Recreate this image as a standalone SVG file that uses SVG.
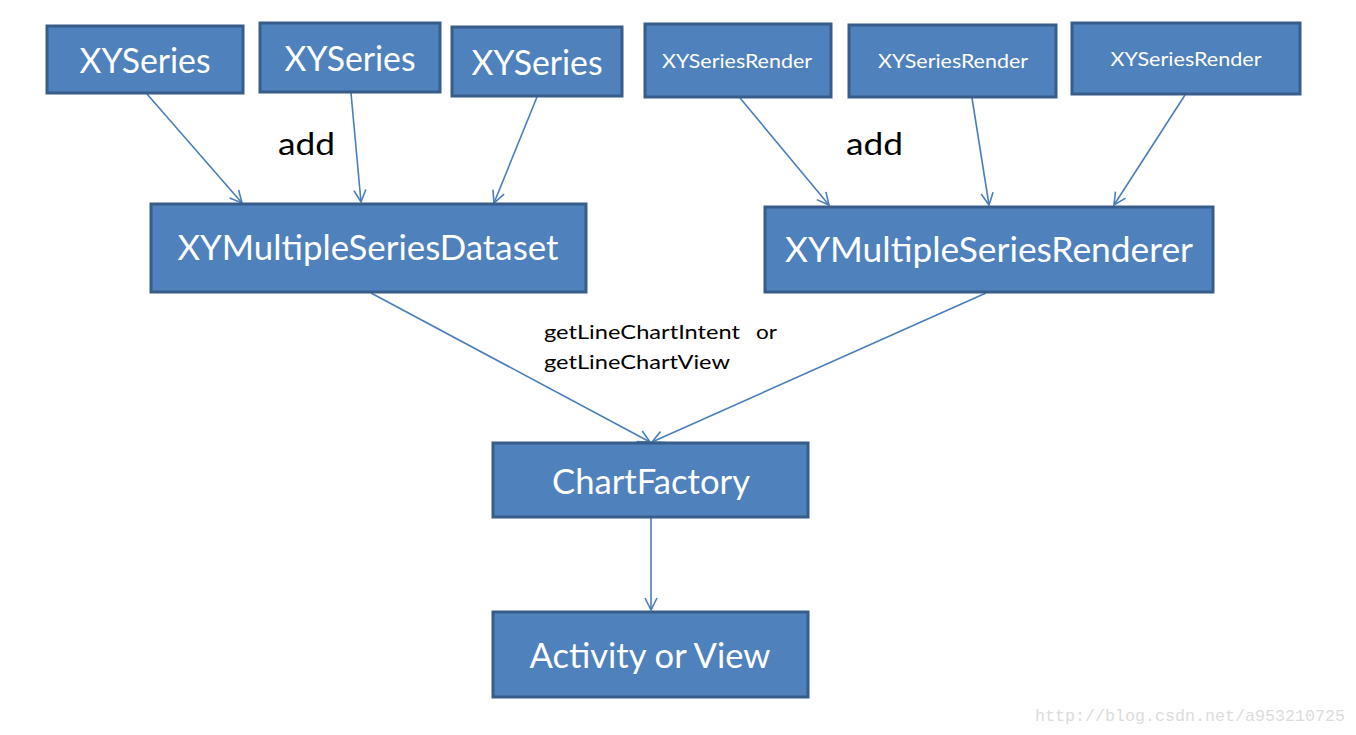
<svg xmlns="http://www.w3.org/2000/svg" width="1356" height="735" viewBox="0 0 1356 735">
<defs>
<style>
.box{fill:#4F81BD;stroke:#385D8A;stroke-width:3}
.bt{fill:#FFFFFF;font-family:Lato,"Open Sans",sans-serif;text-anchor:middle}
.lbl{fill:#000000;font-family:Lato,"Open Sans",sans-serif}
.con line{stroke:#4A7EBB;stroke-width:1.6;marker-end:url(#ah)}
</style>
<marker id="ah" viewBox="0 0 14 14" refX="13" refY="7" markerWidth="14" markerHeight="14" markerUnits="userSpaceOnUse" orient="auto">
<path d="M1,1 L13,7 L1,13" fill="none" stroke="#4A7EBB" stroke-width="1.6"/>
</marker>
</defs>
<rect width="1356" height="735" fill="#FFFFFF"/>
<g class="con">
<line x1="147" y1="94" x2="242" y2="203"/>
<line x1="351" y1="93" x2="361" y2="202"/>
<line x1="537" y1="97" x2="494" y2="203"/>
<line x1="740" y1="98" x2="829" y2="205"/>
<line x1="972" y1="98" x2="989" y2="205"/>
<line x1="1185" y1="95" x2="1114" y2="205"/>
<line x1="371" y1="293" x2="650" y2="442"/>
<line x1="986" y1="293" x2="652" y2="442"/>
<line x1="651" y1="518" x2="651" y2="610"/>
</g>
<g id="n1"><rect class="box" x="47" y="26" width="196" height="67"/><text class="bt" x="145" y="73" font-size="34" textLength="131" lengthAdjust="spacingAndGlyphs">XYSeries</text></g>
<g id="n2"><rect class="box" x="260" y="23" width="180" height="69"/><text class="bt" x="350" y="71" font-size="34" textLength="131" lengthAdjust="spacingAndGlyphs">XYSeries</text></g>
<g id="n3"><rect class="box" x="452" y="27" width="170" height="69"/><text class="bt" x="537" y="75" font-size="34" textLength="131" lengthAdjust="spacingAndGlyphs">XYSeries</text></g>
<g id="n4"><rect class="box" x="645" y="24" width="186" height="73"/><text class="bt" x="737" y="68" font-size="20" textLength="150" lengthAdjust="spacingAndGlyphs">XYSeriesRender</text></g>
<g id="n5"><rect class="box" x="849" y="25" width="207" height="72"/><text class="bt" x="953" y="68" font-size="20" textLength="150" lengthAdjust="spacingAndGlyphs">XYSeriesRender</text></g>
<g id="n6"><rect class="box" x="1072" y="23" width="228" height="71"/><text class="bt" x="1186" y="66" font-size="20" textLength="151" lengthAdjust="spacingAndGlyphs">XYSeriesRender</text></g>
<g id="n7"><rect class="box" x="151" y="204" width="435" height="88"/><text class="bt" x="368" y="260" font-size="34" textLength="381" lengthAdjust="spacingAndGlyphs">XYMultipleSeriesDataset</text></g>
<g id="n8"><rect class="box" x="765" y="207" width="448" height="85"/><text class="bt" x="989" y="262" font-size="34" textLength="408" lengthAdjust="spacingAndGlyphs">XYMultipleSeriesRenderer</text></g>
<g id="n9"><rect class="box" x="493" y="443" width="315" height="74"/><text class="bt" x="651" y="494" font-size="34" textLength="198" lengthAdjust="spacingAndGlyphs">ChartFactory</text></g>
<g id="n10"><rect class="box" x="493" y="612" width="315" height="85"/><text class="bt" x="650" y="668" font-size="34" textLength="241" lengthAdjust="spacingAndGlyphs">Activity or View</text></g>
<g id="labels">
<text class="lbl" x="278" y="155" font-size="30" textLength="57" lengthAdjust="spacingAndGlyphs">add</text>
<text class="lbl" x="846" y="155" font-size="30" textLength="57" lengthAdjust="spacingAndGlyphs">add</text>
<text class="lbl" x="544" y="339" font-size="20" textLength="196" lengthAdjust="spacingAndGlyphs">getLineChartIntent</text>
<text class="lbl" x="756" y="339" font-size="20" textLength="21" lengthAdjust="spacingAndGlyphs">or</text>
<text class="lbl" x="544" y="369" font-size="20" textLength="186" lengthAdjust="spacingAndGlyphs">getLineChartView</text>
<text x="1035" y="721" font-size="17" fill="#DCDCDC" font-family="'Liberation Mono',monospace" textLength="310" lengthAdjust="spacingAndGlyphs">http://blog.csdn.net/a953210725</text>
</g>
</svg>
